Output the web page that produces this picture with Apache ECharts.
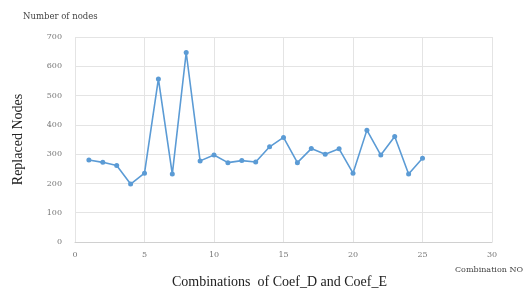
<!DOCTYPE html>
<html>
<head>
<meta charset="utf-8">
<script src="https://cdn.jsdelivr.net/npm/echarts@6/dist/echarts.min.js"></script>
<style>
  html, body { margin: 0; padding: 0; background: #fff; }
  #chart { width: 532px; height: 293px; }
</style>
</head>
<body>
<div id="chart"></div>
<script>
// combination number and replaced nodes
const combos = [1, 2, 3, 4, 5, 6, 7, 8, 9, 10, 11, 12, 13, 14, 15, 16, 17, 18, 19, 20, 21, 22, 23, 24, 25]
const replaced = [280, 272, 261, 198, 235, 557, 232, 647, 277, 297, 271, 278, 273, 325, 357, 271, 319, 300, 318, 235, 382, 297, 360, 232, 286]

const xTicks = { min: 0, max: 30, interval: 5 }
const yTicks = { min: 0, max: 700, interval: 100 }

const points = combos.map((c, i) => [c, replaced[i]])

const myChart = echarts.init(document.getElementById('chart'))
const serif = '"Liberation Serif", "DejaVu Serif", serif'
const wide = '"DejaVu Serif", serif'

myChart.setOption({
  animation: false,
  grid: { left: 75, right: 40, top: 37, bottom: 51 },
  xAxis: {
    type: 'value',
    min: xTicks.min,
    max: xTicks.max,
    interval: xTicks.interval,
    axisLine: { show: true, lineStyle: { color: '#d0d0d0' } },
    axisTick: { show: false },
    axisLabel: { color: '#777', fontSize: 8, fontFamily: wide, margin: 9 },
    splitLine: { show: true, lineStyle: { color: '#e4e4e4' } }
  },
  yAxis: {
    type: 'value',
    min: yTicks.min,
    max: yTicks.max,
    interval: yTicks.interval,
    axisLine: { show: false },
    axisTick: { show: false },
    axisLabel: { color: '#777', fontSize: 8, fontFamily: wide, margin: 13 },
    splitLine: { show: true, lineStyle: { color: '#e4e4e4' } },
    name: 'Replaced Nodes',
    nameLocation: 'middle',
    nameRotate: 90,
    nameGap: 50,
    nameTextStyle: { color: '#222', fontSize: 14, fontFamily: serif }
  },
  graphic: [
    {
      type: 'text', left: 23, top: 12,
      style: { text: 'Number of nodes', fill: '#444', fontSize: 8.5, fontFamily: wide }
    },
    {
      type: 'text', left: 455, top: 266,
      style: { text: 'Combination NO', fill: '#444', fontSize: 8, fontFamily: wide }
    },
    {
      type: 'text', left: 172, top: 275,
      style: { text: 'Combinations  of Coef_D and Coef_E', fill: '#222', fontSize: 14, fontFamily: serif }
    }
  ],
  series: [
    {
      type: 'line',
      data: points,
      symbol: 'circle',
      symbolSize: 5,
      lineStyle: { color: '#5b9bd5', width: 1.6 },
      itemStyle: { color: '#5b9bd5' }
    }
  ]
})
</script>
</body>
</html>
